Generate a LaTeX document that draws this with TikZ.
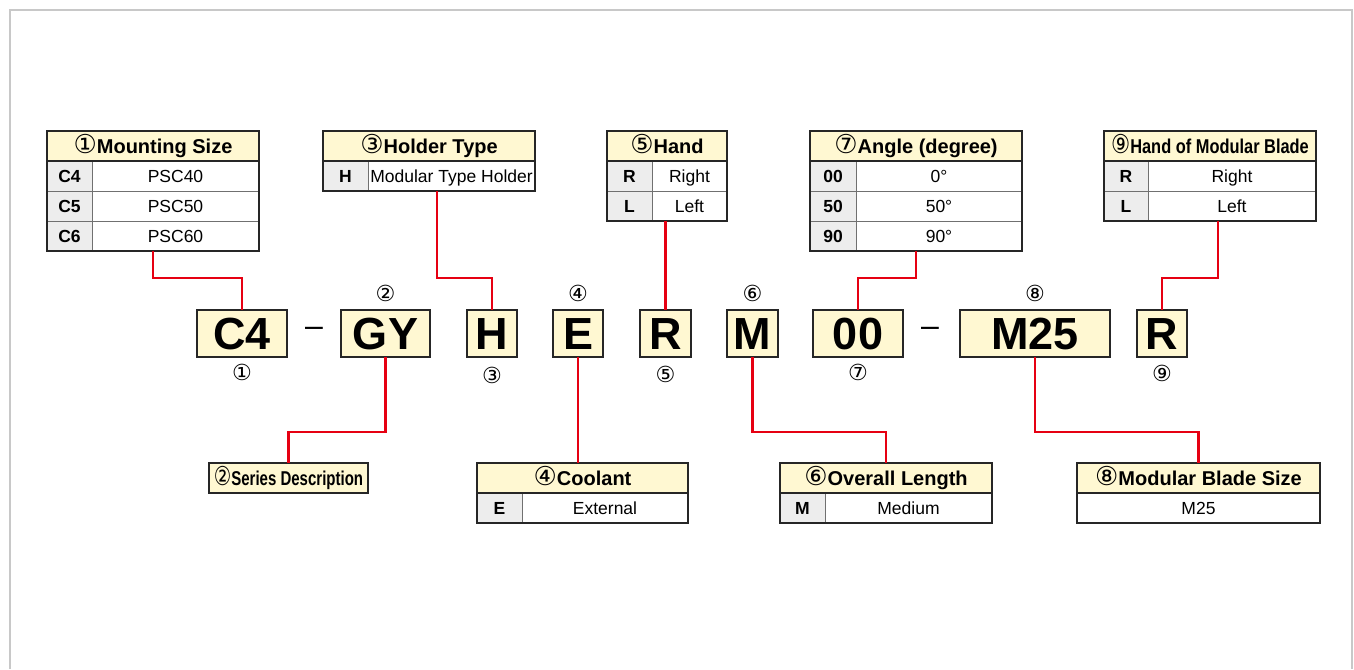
\documentclass[tikz,border=0pt]{standalone}
\usepackage{fontspec}
\usepackage{graphicx}
\setmainfont{Liberation Sans}
\newfontfamily\circfont{DejaVu Sans}
\usetikzlibrary{positioning}
\definecolor{creamc}{HTML}{FFF8D2}
\definecolor{keyc}{HTML}{EDEDED}
\definecolor{gridc}{HTML}{707070}
\definecolor{linkc}{HTML}{E60012}
\definecolor{framec}{HTML}{C8C8C8}
\newcommand{\cnum}[1]{{\circfont\mdseries\scalebox{1.3}{#1}}}

\begin{document}
\begin{tikzpicture}[x=1pt, y=-1pt,
  every node/.style={inner sep=0pt, outer sep=0pt},
  hdrcell/.style={draw=black, line width=1pt, fill=creamc, minimum height=30pt, text height=14.3pt, text depth=0pt, font=\bfseries\fontsize{20}{22}\selectfont, anchor=north west},
  keycell/.style={draw=gridc, line width=0.8pt, fill=keyc, minimum height=30pt, minimum width=45pt, text height=12.6pt, text depth=0pt, font=\bfseries\fontsize{17.5}{20}\selectfont, anchor=north west},
  valcell/.style={draw=gridc, line width=0.8pt, fill=white, minimum height=30pt, text height=12.6pt, text depth=0pt, font=\fontsize{17.5}{20}\selectfont, anchor=north west},
  tabframe/.style={draw=black!85, line width=1.8pt},
  codebox/.style={draw=black!85, line width=1.3pt, fill=creamc, minimum height=47pt, text height=32pt, text depth=0pt, font=\bfseries\fontsize{45}{45}\selectfont},
  numlbl/.style={font=\fontsize{17}{17}\selectfont},
  dashlbl/.style={font=\fontsize{32}{32}\selectfont},
  link/.style={draw=linkc, line width=2.8pt},
]
  \useasboundingbox (0,0) rectangle (1354,669);
  \draw[framec, line width=1.5pt] (10,669) -- (10,10) -- (1352,10) -- (1352,669);

  % code boxes
  \node[codebox, minimum width=90pt] (c4) at (242,333.5) {C4};
  \node[dashlbl] (d1) at (314,332) {–};
  \node[codebox, minimum width=89pt] (gy) at (385.5,333.5) {GY};
  \node[codebox, minimum width=50pt] (h) at (492,333.5) {H};
  \node[codebox, minimum width=50pt] (e) at (578,333.5) {E};
  \node[codebox, minimum width=51pt] (r1) at (665.5,333.5) {R};
  \node[codebox, minimum width=51pt] (m) at (752.5,333.5) {M};
  \node[codebox, minimum width=90pt] (ang) at (858,333.5) {00};
  \node[dashlbl] (d2) at (930,332) {–};
  \node[codebox, minimum width=150pt] (m25) at (1035,333.5) {M25};
  \node[codebox, minimum width=50pt] (r2) at (1162,333.5) {R};

  % circled numbers
  \node[numlbl, below=7pt of c4] (n1) {\cnum{①}};
  \node[numlbl, above=8pt of gy] (n2) {\cnum{②}};
  \node[numlbl, below=10pt of h] (n3) {\cnum{③}};
  \node[numlbl, above=8pt of e] (n4) {\cnum{④}};
  \node[numlbl, below=9pt of r1] (n5) {\cnum{⑤}};
  \node[numlbl, above=8pt of m] (n6) {\cnum{⑥}};
  \node[numlbl, below=7pt of ang] (n7) {\cnum{⑦}};
  \node[numlbl, above=8pt of m25] (n8) {\cnum{⑧}};
  \node[numlbl, below=8pt of r2] (n9) {\cnum{⑨}};

  % mounting size
  \node[hdrcell, minimum width=212pt] (ms-h) at (47,131) {\cnum{①}Mounting Size};
  \node[keycell] (ms-k1) at (ms-h.south west) {C4};
  \node[valcell, minimum width=167pt] (ms-v1) at (ms-k1.north east) {PSC40};
  \node[keycell] (ms-k2) at (ms-k1.south west) {C5};
  \node[valcell, minimum width=167pt] (ms-v2) at (ms-k2.north east) {PSC50};
  \node[keycell] (ms-k3) at (ms-k2.south west) {C6};
  \node[valcell, minimum width=167pt] (ms-v3) at (ms-k3.north east) {PSC60};
  \draw[tabframe] (ms-h.north west) rectangle (ms-v3.south east);
  \draw[tabframe] (ms-h.south west) -- (ms-h.south east);

  % holder type
  \node[hdrcell, minimum width=212pt] (ht-h) at (323,131) {\cnum{③}Holder Type};
  \node[keycell] (ht-k1) at (ht-h.south west) {H};
  \node[valcell, minimum width=167pt] (ht-v1) at (ht-k1.north east) {Modular Type Holder};
  \draw[tabframe] (ht-h.north west) rectangle (ht-v1.south east);
  \draw[tabframe] (ht-h.south west) -- (ht-h.south east);

  % hand
  \node[hdrcell, minimum width=120pt] (hd-h) at (607,131) {\cnum{⑤}Hand};
  \node[keycell] (hd-k1) at (hd-h.south west) {R};
  \node[valcell, minimum width=75pt] (hd-v1) at (hd-k1.north east) {Right};
  \node[keycell] (hd-k2) at (hd-k1.south west) {L};
  \node[valcell, minimum width=75pt] (hd-v2) at (hd-k2.north east) {Left};
  \draw[tabframe] (hd-h.north west) rectangle (hd-v2.south east);
  \draw[tabframe] (hd-h.south west) -- (hd-h.south east);

  % angle
  \node[hdrcell, minimum width=212pt] (an-h) at (810,131) {\cnum{⑦}Angle (degree)};
  \node[keycell, minimum width=46pt] (an-k1) at (an-h.south west) {00};
  \node[valcell, minimum width=166pt] (an-v1) at (an-k1.north east) {0°};
  \node[keycell, minimum width=46pt] (an-k2) at (an-k1.south west) {50};
  \node[valcell, minimum width=166pt] (an-v2) at (an-k2.north east) {50°};
  \node[keycell, minimum width=46pt] (an-k3) at (an-k2.south west) {90};
  \node[valcell, minimum width=166pt] (an-v3) at (an-k3.north east) {90°};
  \draw[tabframe] (an-h.north west) rectangle (an-v3.south east);
  \draw[tabframe] (an-h.south west) -- (an-h.south east);

  % hand of modular blade
  \node[hdrcell, minimum width=212pt] (hb-h) at (1104,131) {\scalebox{0.82}[1]{\cnum{⑨}Hand of Modular Blade}};
  \node[keycell, minimum width=44pt] (hb-k1) at (hb-h.south west) {R};
  \node[valcell, minimum width=168pt] (hb-v1) at (hb-k1.north east) {Right};
  \node[keycell, minimum width=44pt] (hb-k2) at (hb-k1.south west) {L};
  \node[valcell, minimum width=168pt] (hb-v2) at (hb-k2.north east) {Left};
  \draw[tabframe] (hb-h.north west) rectangle (hb-v2.south east);
  \draw[tabframe] (hb-h.south west) -- (hb-h.south east);

  % series description
  \node[hdrcell, minimum width=159pt] (sd) at (209,463) {\scalebox{0.75}[1]{\cnum{②}Series Description}};
  \draw[tabframe] (sd.north west) rectangle (sd.south east);

  % coolant
  \node[hdrcell, minimum width=211pt] (cl-h) at (477,463) {\cnum{④}Coolant};
  \node[keycell] (cl-k1) at (cl-h.south west) {E};
  \node[valcell, minimum width=166pt] (cl-v1) at (cl-k1.north east) {External};
  \draw[tabframe] (cl-h.north west) rectangle (cl-v1.south east);
  \draw[tabframe] (cl-h.south west) -- (cl-h.south east);

  % overall length
  \node[hdrcell, minimum width=212pt] (ol-h) at (780,463) {\cnum{⑥}Overall Length};
  \node[keycell] (ol-k1) at (ol-h.south west) {M};
  \node[valcell, minimum width=167pt] (ol-v1) at (ol-k1.north east) {Medium};
  \draw[tabframe] (ol-h.north west) rectangle (ol-v1.south east);
  \draw[tabframe] (ol-h.south west) -- (ol-h.south east);

  % modular blade size
  \node[hdrcell, minimum width=243pt] (mb-h) at (1077,463) {\cnum{⑧}Modular Blade Size};
  \node[valcell, minimum width=243pt] (mb-v1) at (mb-h.south west) {M25};
  \draw[tabframe] (mb-h.north west) rectangle (mb-v1.south east);
  \draw[tabframe] (mb-h.south west) -- (mb-h.south east);

  % links, top
  \coordinate[xshift=8pt] (ht-b) at (ht-h.center |- ht-v1.south);
  \coordinate[xshift=8pt] (hb-b) at (hb-h.center |- hb-v2.south);
  \draw[link] (ms-h.center |- ms-v3.south) -- ++(0,27) -| (c4.north);
  \draw[link] (ht-b) -- ++(0,87) -| (h.north);
  \draw[link] (r1.north |- hd-v2.south) -- (r1.north);
  \draw[link] (an-h.center |- an-v3.south) -- ++(0,27) -| (ang.north);
  \draw[link] (hb-b) -- ++(0,57) -| (r2.north);

  % links, bottom
  \draw[link] (gy.south) -- ++(0,75) -| (sd.north);
  \draw[link] (e.south) -- (e.south |- cl-h.north);
  \draw[link] (m.south) -- ++(0,75) -| (ol-h.north);
  \draw[link] (m25.south) -- ++(0,75) -| (mb-h.north);
\end{tikzpicture}
\end{document}
